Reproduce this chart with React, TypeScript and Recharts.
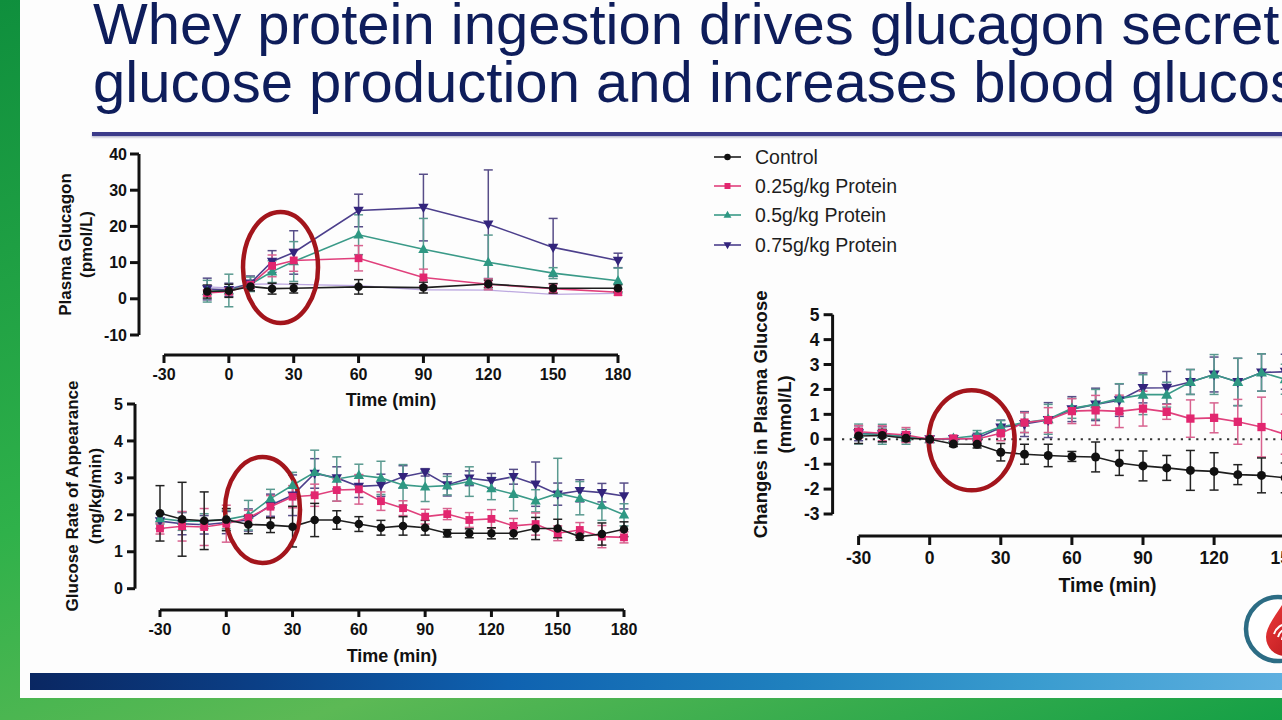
import React from 'react';
import { LineChart, Line, XAxis, YAxis, ErrorBar, ReferenceDot, ReferenceLine } from 'recharts';

const FONT = '"Liberation Sans", Arial, Helvetica, sans-serif';

// ---------------- data ----------------
const seriesNames = ['Control', '0.25g/kg Protein', '0.5g/kg Protein', '0.75g/kg Protein'];
const xTicks = [-30, 0, 30, 60, 90, 120, 150, 180];
const titleLines = [
  'Whey protein ingestion drives glucagon secretion,',
  'glucose production and increases blood glucose',
];

// Plasma glucagon (pmol/L)
const glucagonTime = [-10, 0, 10, 20, 30, 60, 90, 120, 150, 180];
const glucagonControl = [2.0, 2.2, 3.4, 2.8, 2.9, 3.3, 3.1, 4.1, 2.9, 2.9];
const glucagonControlErr = [1.8, 1.8, 1.2, 1.5, 1.3, 2.0, 1.5, 1.0, 1.3, 1.0];
const glucagonP25 = [1.6, 2.0, 3.9, 9.1, 10.6, 11.2, 5.9, 4.0, 2.8, 1.8];
const glucagonP25Err = [0.8, 0.8, 1.0, 3.0, 3.0, 3.5, 2.3, 1.5, 1.3, 0.8];
const glucagonP50 = [2.1, 2.3, 4.0, 7.5, 10.3, 17.7, 13.7, 10.1, 7.1, 5.0];
const glucagonP50Err = [3.0, 4.5, 2.0, 3.0, 5.5, 5.5, 8.5, 7.5, 1.5, 3.5];
const glucagonP75 = [2.7, 2.5, 4.3, 10.3, 12.8, 24.4, 25.2, 20.6, 14.2, 10.6];
const glucagonP75Err = [3.0, 1.8, 2.0, 3.0, 6.0, 4.5, 9.2, 15.0, 8.0, 2.0];
const glucagonFaint = [3.3, 3.0, 4.0, 4.1, 4.0, 3.6, 2.5, 2.4, 1.2, 1.5];
const glucagonYTicks = [-10, 0, 10, 20, 30, 40];

// Glucose rate of appearance (mg/kg/min)
const raTime = [-30, -20, -10, 0, 10, 20, 30, 40, 50, 60, 70, 80, 90, 100, 110, 120, 130, 140, 150, 160, 170, 180];
const raControl = [2.04, 1.88, 1.84, 1.87, 1.74, 1.72, 1.68, 1.86, 1.86, 1.75, 1.65, 1.7, 1.65, 1.5, 1.5, 1.5, 1.5, 1.63, 1.63, 1.41, 1.48, 1.61];
const raControlErr = [0.75, 1.0, 0.78, 0.3, 0.25, 0.2, 0.55, 0.45, 0.25, 0.2, 0.2, 0.25, 0.2, 0.1, 0.12, 0.15, 0.15, 0.3, 0.25, 0.1, 0.3, 0.2];
const raP25 = [1.63, 1.69, 1.67, 1.76, 1.92, 2.22, 2.49, 2.53, 2.67, 2.69, 2.37, 2.18, 1.95, 2.02, 1.86, 1.89, 1.7, 1.75, 1.5, 1.59, 1.41, 1.39];
const raP25Err = [0.15, 0.4, 0.5, 0.5, 0.2, 0.3, 0.3, 0.3, 0.3, 0.4, 0.25, 0.2, 0.2, 0.15, 0.2, 0.25, 0.2, 0.3, 0.2, 0.2, 0.3, 0.15];
const raP50 = [1.9, 1.83, 1.83, 1.87, 1.99, 2.44, 2.8, 3.15, 2.97, 3.07, 3.0, 2.81, 2.76, 2.79, 2.9, 2.71, 2.56, 2.38, 2.58, 2.45, 2.25, 2.0];
const raP50Err = [0.15, 0.25, 0.2, 0.25, 0.4, 0.25, 0.35, 0.6, 0.6, 0.3, 0.45, 0.55, 0.4, 0.25, 0.4, 0.3, 0.45, 0.3, 0.95, 0.45, 0.4, 0.3];
const raP75 = [1.83, 1.76, 1.73, 1.79, 1.86, 2.26, 2.53, 3.12, 3.0, 2.77, 2.8, 3.03, 3.15, 2.81, 2.99, 2.92, 3.03, 2.83, 2.56, 2.65, 2.6, 2.51];
const raP75Err = [0.2, 0.3, 0.25, 0.3, 0.3, 0.3, 0.55, 0.4, 0.3, 0.3, 0.3, 0.3, 0.1, 0.3, 0.2, 0.2, 0.2, 0.6, 0.3, 0.3, 0.25, 0.35];
const raYTicks = [0, 1, 2, 3, 4, 5];

// Changes in plasma glucose (mmol/L)
const dgTime = [-30, -20, -10, 0, 10, 20, 30, 40, 50, 60, 70, 80, 90, 100, 110, 120, 130, 140, 150];
const dgControl = [0.13, 0.15, 0.04, 0, -0.19, -0.2, -0.52, -0.6, -0.65, -0.69, -0.71, -0.95, -1.07, -1.15, -1.25, -1.29, -1.42, -1.45, -1.55];
const dgControlErr = [0.3, 0.25, 0.1, 0, 0.1, 0.15, 0.35, 0.4, 0.45, 0.2, 0.6, 0.5, 0.6, 0.5, 0.8, 0.75, 0.4, 0.7, 0.6];
const dgP25 = [0.3, 0.24, 0.17, 0, 0.03, 0.01, 0.24, 0.67, 0.77, 1.13, 1.16, 1.12, 1.23, 1.1, 0.83, 0.86, 0.7, 0.49, 0.2];
const dgP25Err = [0.25, 0.3, 0.3, 0, 0.1, 0.1, 0.3, 0.4, 0.5, 0.5, 0.6, 0.65, 0.7, 0.3, 0.75, 0.6, 0.9, 1.2, 0.8];
const dgP50 = [0.21, 0.2, 0.1, 0, 0.04, 0.15, 0.5, 0.67, 0.8, 1.24, 1.4, 1.63, 1.79, 1.79, 2.3, 2.6, 2.3, 2.68, 2.41];
const dgP50Err = [0.4, 0.4, 0.3, 0, 0.1, 0.2, 0.25, 0.4, 0.6, 0.4, 0.6, 0.6, 0.8, 0.5, 0.5, 0.8, 0.95, 0.75, 0.6];
const dgP75 = [0.24, 0.2, 0.1, 0, 0.01, 0.04, 0.47, 0.61, 0.77, 1.21, 1.4, 1.57, 2.06, 2.07, 2.3, 2.6, 2.3, 2.68, 2.71];
const dgP75Err = [0.3, 0.3, 0.2, 0, 0.1, 0.2, 0.3, 0.5, 0.7, 0.5, 0.65, 0.65, 0.6, 0.65, 0.5, 0.7, 0.95, 0.75, 0.7];
const dgYTicks = [-3, -2, -1, 0, 1, 2, 3, 4, 5];

// ---------------- styles ----------------
const STYLES = [
  { key: 'ctl', shape: 'circle', color: '#111111', line: '#1e1e1e', err: '#222222' },
  { key: 'p25', shape: 'square', color: '#e2266f', line: '#e0407c', err: '#d8628f' },
  { key: 'p50', shape: 'triangle', color: '#2e9883', line: '#3a9a88', err: '#5a9a90' },
  { key: 'p75', shape: 'triangleDown', color: '#33247c', line: '#4c3f8c', err: '#574d88' },
];

function buildRows(time: number[], cols: Record<string, number[]>) {
  return time.map((t, i) => {
    const r: any = { t };
    Object.keys(cols).forEach((k) => {
      r[k] = cols[k][i];
    });
    return r;
  });
}

const glucagonRows = buildRows(glucagonTime, {
  ctl: glucagonControl, ctlE: glucagonControlErr,
  p25: glucagonP25, p25E: glucagonP25Err,
  p50: glucagonP50, p50E: glucagonP50Err,
  p75: glucagonP75, p75E: glucagonP75Err,
  faint: glucagonFaint,
});
const raRows = buildRows(raTime, {
  ctl: raControl, ctlE: raControlErr,
  p25: raP25, p25E: raP25Err,
  p50: raP50, p50E: raP50Err,
  p75: raP75, p75E: raP75Err,
});
const dgRows = buildRows(dgTime, {
  ctl: dgControl, ctlE: dgControlErr,
  p25: dgP25, p25E: dgP25Err,
  p50: dgP50, p50E: dgP50Err,
  p75: dgP75, p75E: dgP75Err,
});

const X_DOMAIN: [number, number] = [-30, 180];
const SP_DOMAIN: [number, number] = [0, 1];

function Marker({ shape, cx, cy, fill, s }: any) {
  if (cx == null || cy == null || isNaN(cx) || isNaN(cy)) return null;
  if (shape === 'circle') return <circle cx={cx} cy={cy} r={s * 0.5} fill={fill} />;
  if (shape === 'square')
    return <rect x={cx - s * 0.46} y={cy - s * 0.46} width={s * 0.92} height={s * 0.92} fill={fill} />;
  const h = s * 1.05;
  if (shape === 'triangle')
    return (
      <polygon
        points={`${cx},${cy - h * 0.62} ${cx - h * 0.58},${cy + h * 0.42} ${cx + h * 0.58},${cy + h * 0.42}`}
        fill={fill}
      />
    );
  return (
    <polygon
      points={`${cx},${cy + h * 0.62} ${cx - h * 0.58},${cy - h * 0.42} ${cx + h * 0.58},${cy - h * 0.42}`}
      fill={fill}
    />
  );
}

type PanelProps = {
  left: number; top: number; width: number; height: number;
  margin: { top: number; right: number; bottom: number; left: number };
  spacerX: number; spacerY: number; xAxisH: number; yAxisW: number;
  data: any[]; yDomain: [number, number]; yTicks: number[];
  font: number; yTickSize: number; yTickMargin: number; xTickSize: number; xTickMargin: number;
  ellipse: { x: number; y: number; rx: number; ry: number };
  zeroLine?: boolean; faint?: boolean; markerSize: number;
};

function Panel(p: PanelProps) {
  const tickStyle = { fontSize: p.font, fontWeight: 700, fill: '#111', fontFamily: FONT };
  const axisLine = { stroke: '#111', strokeWidth: 3 };
  const order = [3, 2, 1, 0];
  const el = p.ellipse;
  return (
    <div style={{ position: 'absolute', left: p.left, top: p.top, width: p.width, height: p.height }}>
      <LineChart width={p.width} height={p.height} data={p.data} margin={p.margin}>
        <XAxis xAxisId="sp" type="number" domain={SP_DOMAIN} height={p.spacerX} tick={false} axisLine={false} tickLine={false} />
        <YAxis yAxisId="sp" type="number" domain={SP_DOMAIN} width={p.spacerY} tick={false} axisLine={false} tickLine={false} />
        <XAxis
          xAxisId="x" dataKey="t" type="number" domain={X_DOMAIN} ticks={xTicks} interval={0}
          height={p.xAxisH} axisLine={axisLine} tickLine={axisLine}
          tickSize={p.xTickSize} tickMargin={p.xTickMargin} tick={tickStyle}
        />
        <YAxis
          yAxisId="y" type="number" domain={p.yDomain} ticks={p.yTicks} interval={0}
          width={p.yAxisW} axisLine={axisLine} tickLine={axisLine}
          tickSize={p.yTickSize} tickMargin={p.yTickMargin} tick={tickStyle}
        />
        {p.zeroLine && (
          <ReferenceLine
            xAxisId="x" yAxisId="y" ifOverflow="visible"
            segment={[{ x: -37, y: 0 }, { x: 180, y: 0 }]}
            stroke="#333" strokeWidth={2.2} strokeDasharray="2.2 5.5"
          />
        )}
        {p.faint && (
          <Line
            xAxisId="x" yAxisId="y" type="linear" dataKey="faint" stroke="#bda9e0" strokeWidth={1.3}
            dot={false} activeDot={false} isAnimationActive={false}
          />
        )}
        {order.map((i) => {
          const st = STYLES[i];
          return (
            <Line
              key={st.key}
              xAxisId="x" yAxisId="y" type="linear" dataKey={st.key} name={seriesNames[i]}
              stroke={st.line} strokeWidth={1.6} activeDot={false} isAnimationActive={false}
              dot={(dp: any) => (
                <Marker key={`${st.key}-${dp.index}`} shape={st.shape} cx={dp.cx} cy={dp.cy} fill={st.color} s={p.markerSize} />
              )}
            >
              <ErrorBar dataKey={`${st.key}E`} width={4.5} strokeWidth={1.5} stroke={st.err} direction="y" isAnimationActive={false} />
            </Line>
          );
        })}
        <ReferenceDot
          xAxisId="x" yAxisId="y" x={el.x} y={el.y} r={1} ifOverflow="visible"
          shape={(sp: any) => (
            <ellipse cx={sp.cx} cy={sp.cy} rx={el.rx} ry={el.ry} fill="none" stroke="#a3151c" strokeWidth={4.5} />
          )}
        />
      </LineChart>
    </div>
  );
}

function Legend() {
  return (
    <div style={{ position: 'absolute', left: 708, top: 145 }}>
      {STYLES.map((st, i) => (
        <div key={st.key} style={{ position: 'absolute', left: 0, top: i * 29.2, width: 280, height: 24 }}>
          <svg width={36} height={24} style={{ position: 'absolute', left: 4, top: 0 }}>
            <line x1={2} y1={12} x2={29} y2={12} stroke={st.line} strokeWidth={1.6} />
            <Marker shape={st.shape} cx={15.5} cy={12} fill={st.color} s={6.5} />
          </svg>
          <span
            style={{
              position: 'absolute', left: 47, top: 0, lineHeight: '24px', fontSize: 19.5,
              whiteSpace: 'nowrap', color: '#1d1d1d', fontFamily: FONT,
            }}
          >
            {seriesNames[i]}
          </span>
        </div>
      ))}
    </div>
  );
}

function AxisTitles() {
  const b = { fontWeight: 700, fill: '#111', fontFamily: FONT } as any;
  return (
    <svg width={1282} height={720} style={{ position: 'absolute', left: 0, top: 0, pointerEvents: 'none' }}>
      <text x={391} y={406.4} textAnchor="middle" fontSize={18} {...b}>Time (min)</text>
      <text transform="translate(71,244.5) rotate(-90)" textAnchor="middle" fontSize={17} {...b}>Plasma Glucagon</text>
      <text transform="translate(92.4,244.5) rotate(-90)" textAnchor="middle" fontSize={17} {...b}>(pmol/L)</text>

      <text x={392} y={662} textAnchor="middle" fontSize={18} {...b}>Time (min)</text>
      <text transform="translate(77.5,496) rotate(-90)" textAnchor="middle" fontSize={17} {...b}>Glucose Rate of Appearance</text>
      <text transform="translate(101,496) rotate(-90)" textAnchor="middle" fontSize={17} {...b}>(mg/kg/min)</text>

      <text x={1107.5} y={592} textAnchor="middle" fontSize={19.5} {...b}>Time (min)</text>
      <text transform="translate(767,414.4) rotate(-90)" textAnchor="middle" fontSize={18.5} {...b}>Changes in Plasma Glucose</text>
      <text transform="translate(790.5,414.4) rotate(-90)" textAnchor="middle" fontSize={18.5} {...b}>(mmol/L)</text>
    </svg>
  );
}

function Logo() {
  return (
    <svg width={90} height={80} style={{ position: 'absolute', left: 1238, top: 590 }}>
      <defs>
        <linearGradient id="dropG" x1="0" y1="0" x2="1" y2="1">
          <stop offset="0" stopColor="#ee3b3b" />
          <stop offset="1" stopColor="#b5161b" />
        </linearGradient>
      </defs>
      <circle cx={40} cy={39} r={32} fill="#ffffff" stroke="#2c6c84" strokeWidth={4.5} />
      <path d="M47,10 C55,24 66,36 66,47 A19,19 0 0 1 28,47 C28,36 39,24 47,10 Z" fill="url(#dropG)" />
      <path d="M36,44 A14,14 0 0 1 50,34" stroke="#fff" strokeWidth={2} fill="none" />
      <path d="M40,47 A10,10 0 0 1 50,39" stroke="#fff" strokeWidth={2} fill="none" />
      <path d="M44,50 A6,6 0 0 1 50,44" stroke="#fff" strokeWidth={2} fill="none" />
    </svg>
  );
}

export default function App() {
  return (
    <div
      style={{
        position: 'fixed', left: 0, top: 0, width: 1282, height: 720, overflow: 'hidden',
        fontFamily: FONT,
        background: 'linear-gradient(160deg, #0f8f3d 0%, #2fb14a 45%, #5cb955 70%, #15a046 100%)',
      }}
    >
      <div style={{ position: 'absolute', left: 20, top: 0, width: 1262, height: 698, background: '#fdfdfd' }} />
      {titleLines.map((line, i) => (
        <div
          key={i}
          style={{
            position: 'absolute', left: 93, top: -1.1 + i * 58, height: 50, fontSize: 58, lineHeight: '50px',
            color: '#0e1d5b', whiteSpace: 'nowrap', fontFamily: FONT,
          }}
        >
          {line}
        </div>
      ))}
      <div
        style={{
          position: 'absolute', left: 92, top: 132, width: 1200, height: 3.5, background: '#3b3a8a',
          boxShadow: '0 1.5px 2px rgba(60,60,120,0.35)',
        }}
      />
      <div
        style={{
          position: 'absolute', left: 30, top: 673, width: 1260, height: 17,
          background: 'linear-gradient(90deg, #0a2762 0%, #0b3f86 18%, #0f62b0 38%, #1f80be 60%, #3a9ccf 80%, #5fb0e0 100%)',
        }}
      />

      <Panel
        left={0} top={130} width={650} height={290}
        margin={{ top: 24, right: 32, bottom: 15, left: 79 }}
        spacerX={20} spacerY={25} xAxisH={50} yAxisW={60}
        data={glucagonRows} yDomain={[-10, 40]} yTicks={glucagonYTicks}
        font={16} yTickSize={9} yTickMargin={3} xTickSize={8} xTickMargin={6}
        ellipse={{ x: 23.9, y: 8.65, rx: 37.5, ry: 55.5 }} faint markerSize={8.5}
      />
      <Panel
        left={0} top={380} width={650} height={300}
        margin={{ top: 24, right: 26, bottom: 20, left: 75 }}
        spacerX={21.3} spacerY={25} xAxisH={50} yAxisW={60}
        data={raRows} yDomain={[0, 5]} yTicks={raYTicks}
        font={16} yTickSize={8} yTickMargin={4} xTickSize={7} xTickMargin={7}
        ellipse={{ x: 16.4, y: 2.13, rx: 37.5, ry: 53 }} markerSize={8.5}
      />
      <Panel
        left={700} top={280} width={700} height={330}
        margin={{ top: 34.7, right: 43.7, bottom: 19, left: 62.6 }}
        spacerX={22} spacerY={26} xAxisH={55} yAxisW={70}
        data={dgRows} yDomain={[-3, 5]} yTicks={dgYTicks}
        font={17.5} yTickSize={9} yTickMargin={4} xTickSize={9} xTickMargin={7}
        ellipse={{ x: 17.7, y: -0.04, rx: 43, ry: 50 }} zeroLine markerSize={9}
      />

      <Legend />
      <AxisTitles />
      <Logo />
    </div>
  );
}
